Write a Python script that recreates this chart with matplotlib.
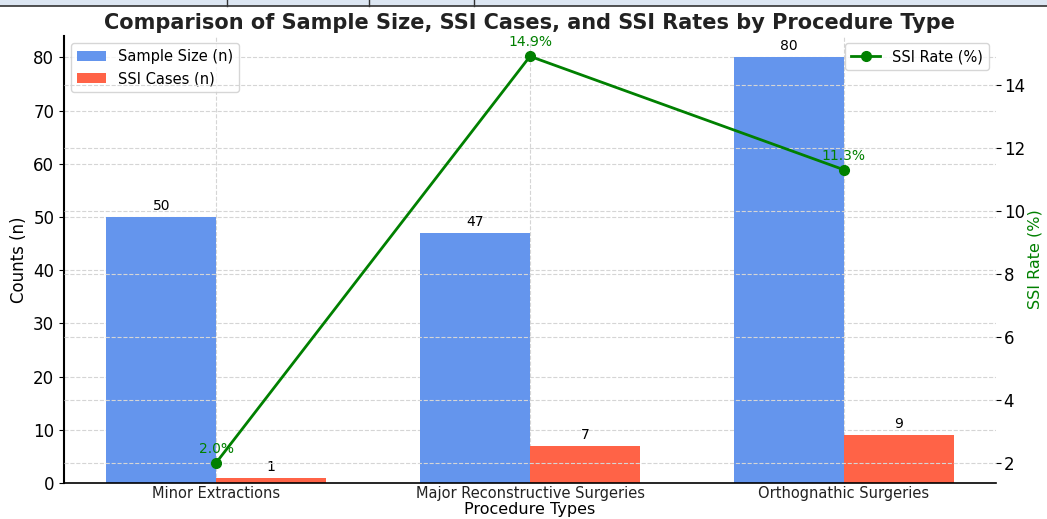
import matplotlib
matplotlib.use("Agg")
import matplotlib.pyplot as plt
import numpy as np

procedimientos = ["Minor Extractions", "Major Reconstructive Surgeries", "Orthognathic Surgeries"]
muestra = [50, 47, 80]
casos_ssi = [1, 7, 9]
tasa_ssi = [2.0, 14.9, 11.3]

x = np.arange(len(procedimientos))
ancho = 0.35

fig = plt.figure(figsize=(10.47, 5.19), dpi=100)

# franja de tabla recortada arriba
fig.patches.append(plt.Rectangle((0, 1 - 6 / 519), 1, 6 / 519, transform=fig.transFigure,
                                 facecolor="#dce6f2", edgecolor="none"))
fig.add_artist(plt.Line2D([0, 1], [1 - 6 / 519] * 2, color="#333333", lw=1.2, transform=fig.transFigure))
for xv in [227, 369, 474]:
    fig.add_artist(plt.Line2D([xv / 1047] * 2, [1 - 6 / 519, 1], color="#333333", lw=1, transform=fig.transFigure))

ax = fig.add_axes([64 / 1047, 36 / 519, 932 / 1047, 447 / 519])
barra_A = ax.bar(x - ancho / 2, muestra, width=ancho, label="Sample Size (n)", color="#6495ED")
barra_B = ax.bar(x + ancho / 2, casos_ssi, width=ancho, label="SSI Cases (n)", color="#FF6347")

for grupo in [barra_A, barra_B]:
    for barra in grupo:
        altura = barra.get_height()
        ax.annotate(f"{altura:.0f}", (barra.get_x() + barra.get_width() / 2, altura),
                    xytext=(0, 3), textcoords="offset points", ha="center", va="bottom", fontsize=10)

ax.set_xticks(x)
ax.set_xticklabels(procedimientos, fontsize=10.5, color="#222222")
ax.tick_params(axis="x", length=0, pad=2)
ax.set_xlabel("Procedure Types", fontsize=11.5, labelpad=1)
ax.set_ylabel("Counts (n)", fontsize=12)
ax.tick_params(axis="y", labelsize=12)
ax.grid(True, linestyle="--", color="#d5d5d5", linewidth=0.8)
ax.set_axisbelow(True)
ax.spines["top"].set_visible(False)
ax.spines["right"].set_visible(False)
ax.spines["left"].set_linewidth(1.5)
ax.spines["bottom"].set_linewidth(1.2)
ax.legend(loc="upper left", fontsize=10.5)
ax.set_title("Comparison of Sample Size, SSI Cases, and SSI Rates by Procedure Type",
             fontsize=15, fontweight="bold", color="#222222", pad=5)

ax2 = ax.twinx()
ax2.plot(x, tasa_ssi, color="green", marker="o", linewidth=2, markersize=7, label="SSI Rate (%)")
for xi, t in zip(x, tasa_ssi):
    ax2.annotate(f"{t:.1f}%", (xi, t), xytext=(0, 5), textcoords="offset points",
                 ha="center", va="bottom", fontsize=10, color="green")
ax2.set_ylabel("SSI Rate (%)", color="green", fontsize=11.5, labelpad=2)
ax2.tick_params(axis="y", labelsize=12, pad=2)
ax2.grid(True, axis="y", linestyle="--", color="#d5d5d5", linewidth=0.8)
for s in ["top", "right", "left", "bottom"]:
    ax2.spines[s].set_visible(False)
ax2.legend(loc="upper right", fontsize=10.5)

fig.savefig("out.png", dpi=100)
